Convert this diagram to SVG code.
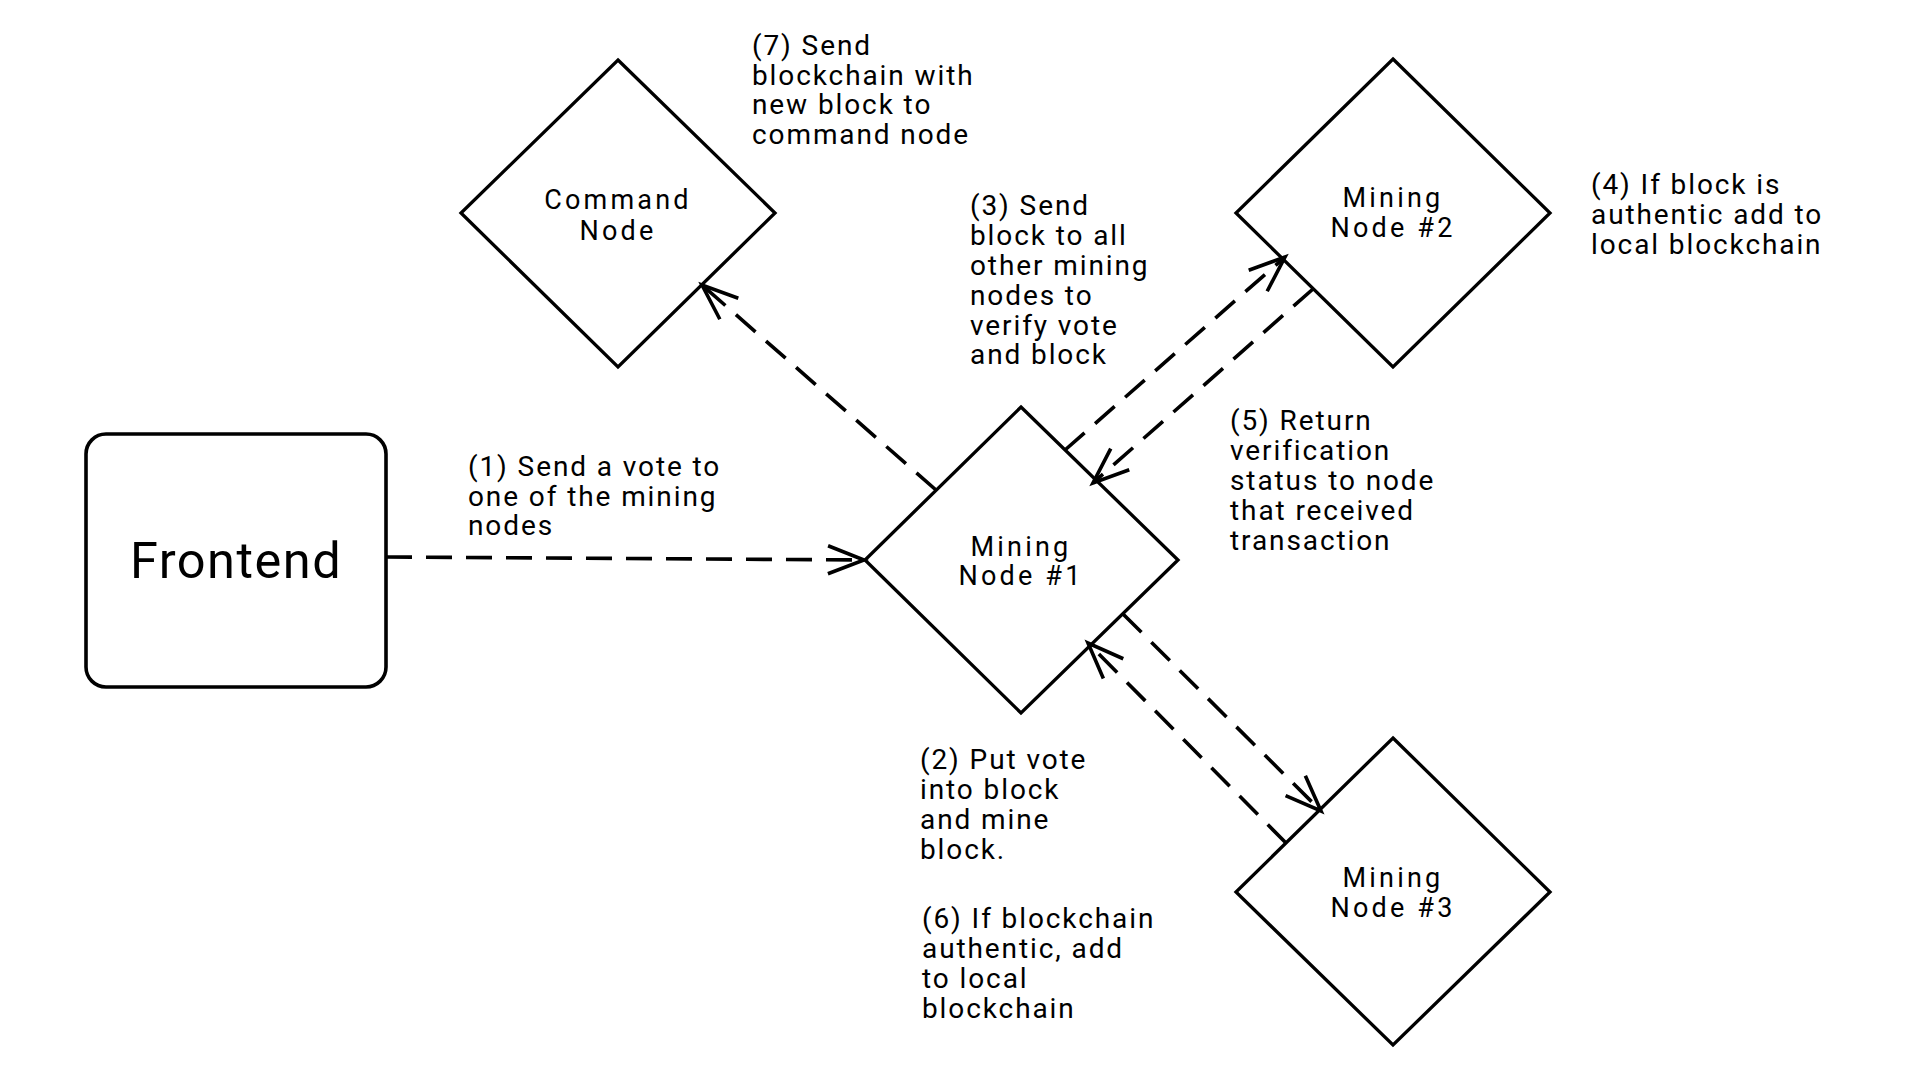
<svg xmlns="http://www.w3.org/2000/svg" width="1914" height="1092" viewBox="0 0 1914 1092">
<style>
.bg{fill:#fff}
.shape{fill:none;stroke:#000;stroke-width:3.3;stroke-linejoin:miter}
.box{fill:none;stroke:#000;stroke-width:3.6}
.edge{fill:none;stroke:#000;stroke-width:3.6;stroke-dasharray:26 14;marker-end:url(#arr)}
.nl{font-family:Roboto,"Liberation Sans",sans-serif;font-size:27px;letter-spacing:3.2px;fill:#000;text-anchor:middle}
.lbl{font-family:Roboto,"Liberation Sans",sans-serif;font-size:28px;letter-spacing:1.9px;fill:#000}
.big{font-family:Roboto,"Liberation Sans",sans-serif;font-size:50.5px;letter-spacing:1.5px;fill:#000;text-anchor:middle}
</style>
<defs>
<marker id="arr" markerUnits="userSpaceOnUse" viewBox="-42 -18 46 36" refX="0" refY="0" markerWidth="46" markerHeight="36" orient="auto" overflow="visible">
<path d="M-36,-14 L0,0 L-36,14" fill="none" stroke="#000" stroke-width="3.6" stroke-dasharray="none"/>
</marker>
</defs>
<rect class="bg" x="0" y="0" width="1914" height="1092"/>
<g id="connectors">
<path class="edge" d="M386,557 L864,560"/>
<path class="edge" d="M936,490 L702,285"/>
<path class="edge" d="M1065,450 L1285,257"/>
<path class="edge" d="M1313,289 L1093,483"/>
<path class="edge" d="M1123,614 L1321,811"/>
<path class="edge" d="M1286,843 L1088,643"/>
</g>
<g id="frontend">
<rect class="box" x="86" y="434" width="300" height="253" rx="20" ry="20"/>
<text class="big" x="236" y="578">Frontend</text>
</g>
<g id="command-node">
<path class="shape" d="M618,60 L775,213 L618,367 L461,213 Z"/>
<text class="nl"><tspan x="618" y="209">Command</tspan><tspan x="618" y="240">Node</tspan></text>
</g>
<g id="mining-node-1">
<path class="shape" d="M1021,407 L1178,560 L1021,713 L865,560 Z"/>
<text class="nl"><tspan x="1021" y="556">Mining</tspan><tspan x="1021" y="585">Node #1</tspan></text>
</g>
<g id="mining-node-2">
<path class="shape" d="M1393,59 L1550,213 L1393,367 L1236,213 Z"/>
<text class="nl"><tspan x="1393" y="207">Mining</tspan><tspan x="1393" y="237">Node #2</tspan></text>
</g>
<g id="mining-node-3">
<path class="shape" d="M1393,738 L1550,892 L1393,1045 L1236,892 Z"/>
<text class="nl"><tspan x="1393" y="887">Mining</tspan><tspan x="1393" y="917">Node #3</tspan></text>
</g>
<g id="labels">
<text class="lbl"><tspan x="468" y="476">(1) Send a vote to</tspan><tspan x="468" y="505.5">one of the mining</tspan><tspan x="468" y="535">nodes</tspan></text>
<text class="lbl"><tspan x="920" y="769">(2) Put vote</tspan><tspan x="920" y="799">into block</tspan><tspan x="920" y="829">and mine</tspan><tspan x="920" y="858.5">block.</tspan></text>
<text class="lbl"><tspan x="970" y="215">(3) Send</tspan><tspan x="970" y="245">block to all</tspan><tspan x="970" y="275">other mining</tspan><tspan x="970" y="305">nodes to</tspan><tspan x="970" y="334.5">verify vote</tspan><tspan x="970" y="364">and block</tspan></text>
<text class="lbl"><tspan x="1591" y="194">(4) If block is</tspan><tspan x="1591" y="224">authentic add to</tspan><tspan x="1591" y="254">local blockchain</tspan></text>
<text class="lbl"><tspan x="1230" y="429.5">(5) Return</tspan><tspan x="1230" y="459.5">verification</tspan><tspan x="1230" y="489.5">status to node</tspan><tspan x="1230" y="519.5">that received</tspan><tspan x="1230" y="549.5">transaction</tspan></text>
<text class="lbl"><tspan x="922" y="928">(6) If blockchain</tspan><tspan x="922" y="958">authentic, add</tspan><tspan x="922" y="988">to local</tspan><tspan x="922" y="1018">blockchain</tspan></text>
<text class="lbl"><tspan x="752" y="55">(7) Send</tspan><tspan x="752" y="84.7">blockchain with</tspan><tspan x="752" y="114.4">new block to</tspan><tspan x="752" y="144">command node</tspan></text>
</g>
</svg>
